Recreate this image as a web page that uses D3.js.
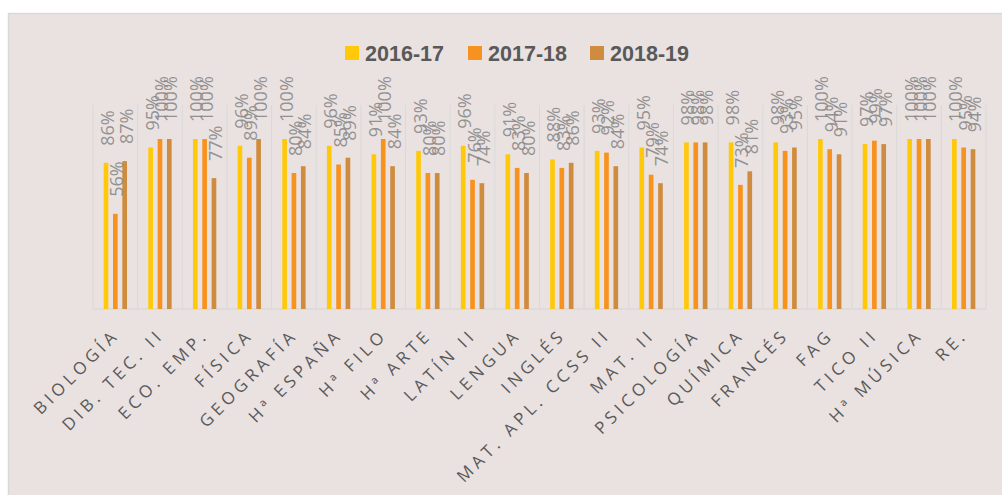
<!DOCTYPE html>
<html>
<head>
<meta charset="utf-8">
<script src="https://cdn.jsdelivr.net/npm/d3@7"></script>
<style>
  html, body { margin: 0; padding: 0; background: #ffffff; }
  svg { display: block; }
</style>
</head>
<body>
<svg id="chart" width="1002" height="495"></svg>
<script>
// Subjects (x axis)
const categories = [
  "BIOLOGÍA", "DIB. TEC. II", "ECO. EMP.", "FÍSICA", "GEOGRAFÍA",
  "Hª ESPAÑA", "Hª FILO", "Hª ARTE", "LATÍN II", "LENGUA",
  "INGLÉS", "MAT. APL. CCSS II", "MAT. II", "PSICOLOGÍA", "QUÍMICA",
  "FRANCÉS", "FAG", "TICO II", "Hª MÚSICA", "RE."
];

// Course years shown in the legend
const seriesNames = ["2016-17", "2017-18", "2018-19"];

// Pass rate per subject (%) for each course year
const values2016 = [86, 95, 100, 96, 100, 96, 91, 93, 96, 91, 88, 93, 95, 98, 98, 98, 100, 97, 100, 100];
const values2017 = [56, 100, 100, 89, 80, 85, 100, 80, 76, 83, 83, 92, 79, 98, 73, 93, 94, 99, 100, 95];
const values2018 = [87, 100, 77, 100, 84, 89, 84, 80, 74, 80, 86, 84, 74, 98, 81, 95, 91, 97, 100, 94];

const seriesValues = [values2016, values2017, values2018];
const colors = ["#ffc90a", "#f8921e", "#d08c3e"];

const svg = d3.select("#chart");
const W = 1002, H = 495;

// Chart area background
svg.append("rect")
  .attr("x", 8.5).attr("y", 13.5)
  .attr("width", W + 10).attr("height", H + 10)
  .attr("fill", "#eae1e1")
  .attr("stroke", "#d9d9d9")
  .attr("stroke-width", 1.5);

const plot = { left: 93, right: 986, top: 105, bottom: 309 };

const x0 = d3.scaleBand()
  .domain(categories)
  .range([plot.left, plot.right])
  .paddingInner(0).paddingOuter(0);

const bw = x0.bandwidth();
const x1 = d3.scaleBand()
  .domain(seriesNames)
  .range([bw / 2 - 14, bw / 2 + 14])
  .paddingInner(0.5).paddingOuter(0.25);

const y = d3.scaleLinear().domain([0, 120]).range([plot.bottom, plot.top]);

// Vertical separators between categories
const bounds = categories.map(c => x0(c)).concat([plot.right]);
svg.append("g").selectAll("line")
  .data(bounds)
  .join("line")
  .attr("x1", d => d).attr("x2", d => d)
  .attr("y1", plot.top).attr("y2", plot.bottom)
  .attr("stroke", "#d9d9d9")
  .attr("stroke-width", 1);

// Baseline
svg.append("line")
  .attr("x1", plot.left).attr("x2", plot.right)
  .attr("y1", plot.bottom).attr("y2", plot.bottom)
  .attr("stroke", "#d9d9d9")
  .attr("stroke-width", 1.5);

// Bars
const rows = [];
categories.forEach((c, i) => {
  seriesNames.forEach((s, j) => {
    rows.push({ cat: c, series: s, value: seriesValues[j][i], color: colors[j] });
  });
});

const barG = svg.append("g");
barG.selectAll("rect")
  .data(rows)
  .join("rect")
  .attr("x", d => x0(d.cat) + x1(d.series))
  .attr("y", d => y(d.value))
  .attr("width", x1.bandwidth())
  .attr("height", d => y(0) - y(d.value))
  .attr("fill", d => d.color);

// Value labels, rotated, above each bar
svg.append("g").selectAll("text")
  .data(rows)
  .join("text")
  .attr("transform", d => {
    const cx = x0(d.cat) + x1(d.series) + x1.bandwidth() / 2 + 8;
    const ty = y(d.value) - 17;
    return `translate(${cx},${ty}) rotate(-90)`;
  })
  .attr("text-anchor", "start")
  .attr("font-family", "'Open Sans', 'Noto Sans', sans-serif")
  .attr("font-size", 18)
  .attr("fill", "#8a8a8a")
  .attr("fill-opacity", 0.92)
  .text(d => d.value + "%");

// Category labels at -45°
svg.append("g").selectAll("text")
  .data(categories)
  .join("text")
  .attr("transform", d => {
    const cx = x0(d) + bw / 2 + 5;
    return `translate(${cx},336) rotate(-45)`;
  })
  .attr("text-anchor", "end")
  .attr("font-family", "'Open Sans', 'Noto Sans', sans-serif")
  .attr("font-size", 17)
  .attr("letter-spacing", "4.2px")
  .attr("fill", "#595959")
  .text(d => d);

// Legend
const legendX = [345, 468, 590];
const legend = svg.append("g");
seriesNames.forEach((s, j) => {
  legend.append("rect")
    .attr("x", legendX[j]).attr("y", 46)
    .attr("width", 14).attr("height", 14)
    .attr("fill", colors[j]);
  legend.append("text")
    .attr("x", legendX[j] + 20).attr("y", 60.5)
    .attr("font-family", "'Liberation Sans Narrow', 'Arial Narrow', 'Liberation Sans', sans-serif")
    .attr("font-weight", "bold")
    .attr("font-size", 22)
    .attr("textLength", 79)
    .attr("lengthAdjust", "spacingAndGlyphs")
    .attr("fill", "#595959")
    .text(s);
});
</script>
</body>
</html>
